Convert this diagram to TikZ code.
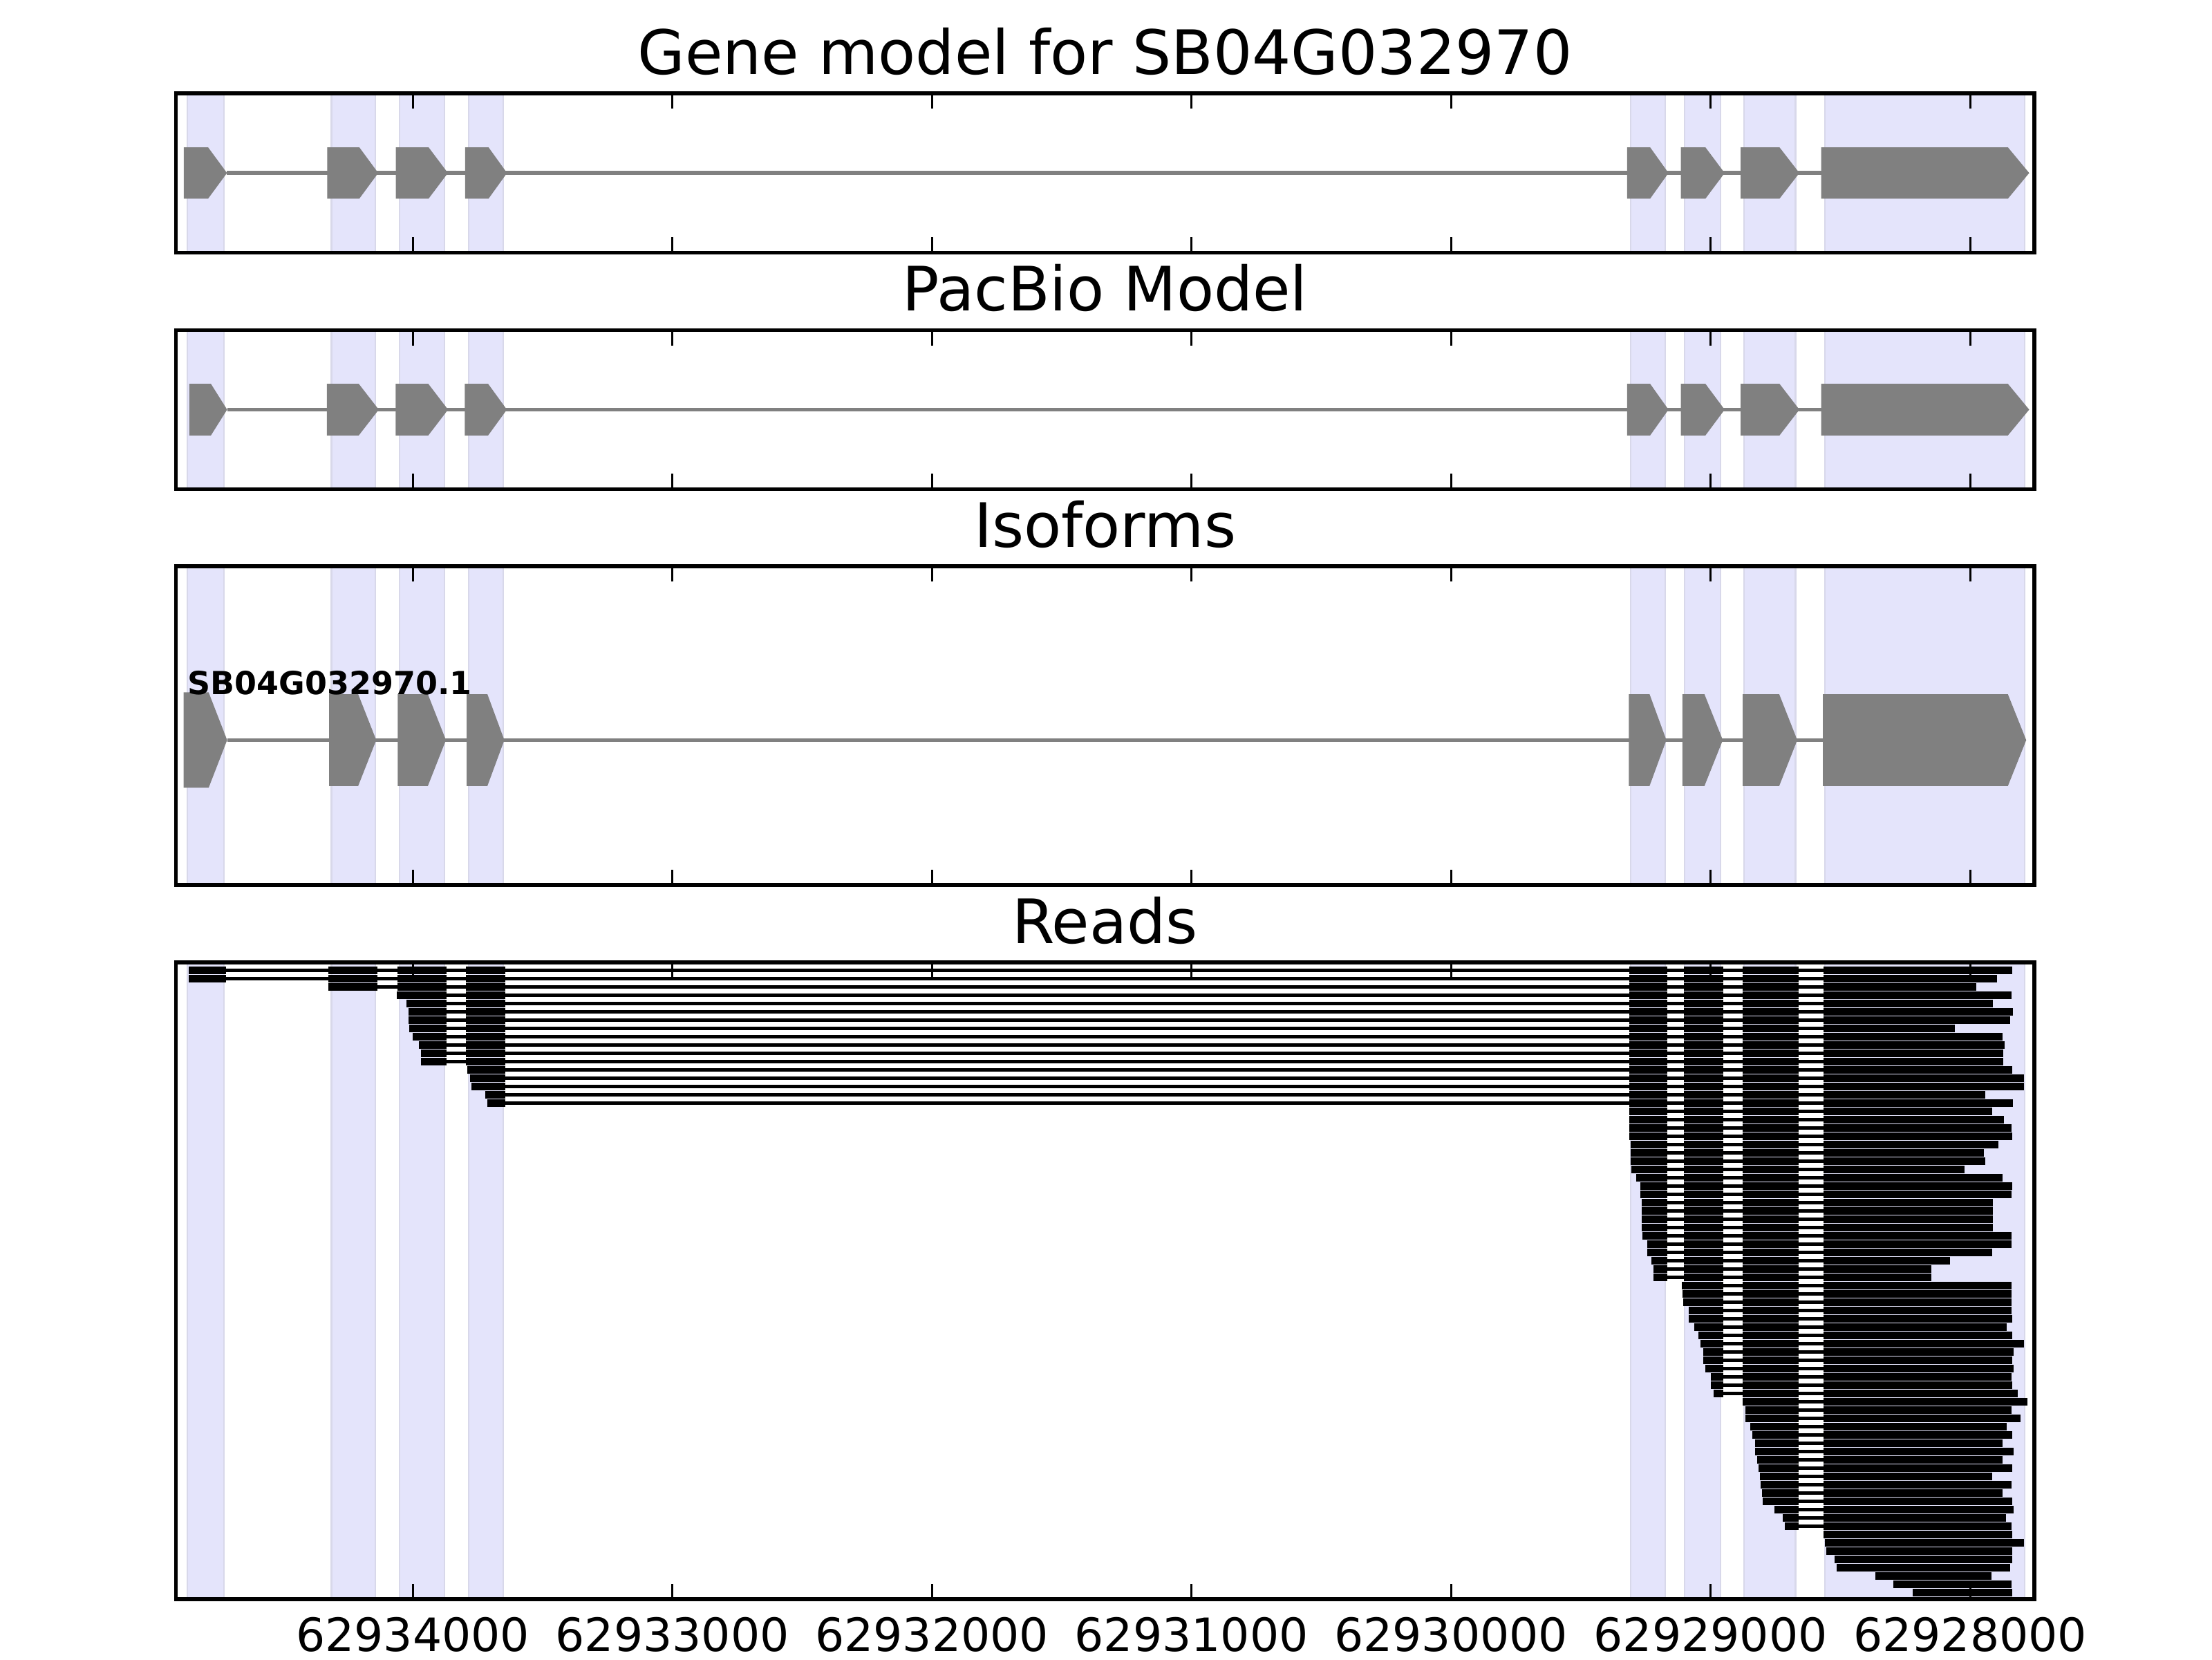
\documentclass[tikz,border=0pt]{standalone}
\usepackage{fontspec}
\setmainfont{DejaVu Sans}
\begin{document}
\begin{tikzpicture}[x=0.1296mm,y=-0.1296mm,band/.style={fill={rgb,255:red,228;green,228;blue,251},draw={rgb,255:red,216;green,216;blue,234},line width=0.4pt},exon/.style={fill={rgb,255:red,128;green,128;blue,128}},intron/.style={draw={rgb,255:red,128;green,128;blue,128},line width=1pt},readline/.style={draw=black,line width=1pt},readblock/.style={fill=black},axframe/.style={draw=black,line width=1pt},tickmark/.style={draw=black,line width=0.5pt},paneltitle/.style={anchor=base,inner sep=0pt,font=\fontsize{16}{19}\selectfont},ticklabel/.style={anchor=base,inner sep=0pt,font=\fontsize{12}{14}\selectfont},isolabel/.style={anchor=base west,inner sep=0pt,font=\bfseries\fontsize{8.3}{10}\selectfont}]
\useasboundingbox (0,0) rectangle (1568,1176);
\def\blkL{{133.7,232.8,281.8,330.3,1154.9,1193.6,1235.3,1292.4}}
\def\blkR{{160.1,267.6,316.5,358.3,1182.0,1221.7,1275.0,1435.0}}
\foreach \pt/\pb in {66.2/179,233.9/346.6,401.3/627.2,682.1/1133.4}{\foreach \bl/\br in {132.9/158.7,235/266,283.3/315,332.3/356.6,1155.9/1180.2,1194.0/1219.4,1236.3/1272.8,1293.6/1435.3}{\draw[band] (\bl,\pt) rectangle (\br,\pb);}}
\node[paneltitle] (t1) at (783.3,52.6) {Gene model for SB04G032970}; \node[paneltitle] (t2) at (783.3,220.4) {PacBio Model}; \node[paneltitle] (t3) at (783.3,387.8) {Isoforms}; \node[paneltitle] (t4) at (783.3,668.6) {Reads};
\draw[intron] (160.9,122.6)--(1290.9,122.6); \draw[intron] (161.0,290.3)--(1290.9,290.3); \draw[intron] (161.0,524.5)--(1292.2,524.5);
\foreach \a/\b/\c/\m/\h in {130.3/147.5/160.9/122.6/18.2,231.9/254.7/268.1/122.6/18.2,280.6/303.8/317.5/122.6/18.2,329.7/346.3/359.4/122.6/18.2,1153.4/1169.7/1182.7/122.6/18.2,1191.5/1208.9/1222.5/122.6/18.2,1233.8/1261.4/1275.5/122.6/18.2,1290.9/1423.3/1438.4/122.6/18.2,134.2/149.5/161.0/290.3/18.3,231.7/254.3/268.5/290.3/18.3,280.5/303.6/317.6/290.3/18.3,329.4/346.0/359.3/290.3/18.3,1153.4/1169.7/1182.7/290.3/18.3,1191.5/1208.9/1222.5/290.3/18.3,1233.8/1261.4/1275.5/290.3/18.3,1290.9/1423.3/1438.4/290.3/18.3,130.2/147.9/161.0/524.5/33.8,233.3/253.9/266.7/524.5/32.5,281.9/303.3/316.1/524.5/32.5,330.8/345.5/357.5/524.5/32.5,1154.6/1169.3/1181.2/524.5/32.5,1192.6/1208.2/1221.2/524.5/32.5,1235.3/1261.2/1274.0/524.5/32.5,1292.2/1423.3/1436.3/524.5/32.5}{\fill[exon] (\a,\m-\h)--(\b,\m-\h)--(\c,\m)--(\b,\m+\h)--(\a,\m+\h)--cycle;}
\node[isolabel] (iso) at (132.5,492) {SB04G032970.1};
\foreach \n/\first/\rbeg/\rfin in {1/1/133.7/1426.6,2/1/133.7/1415.8,3/2/232.8/1400.9,4/3/281.2/1425.7,5/3/288.2/1412.7,6/3/289.6/1427.0,7/3/289.6/1425.1,8/3/290.1/1385.6,9/3/292.6/1419.7,10/3/297.0/1421.2,11/3/298.4/1419.8,12/3/298.4/1419.8,13/4/331.4/1426.6,14/4/333.4/1434.6,15/4/334.2/1434.6,16/4/344.2/1407.3,17/4/345.6/1427.0,18/5/1154.9/1412.1,19/5/1154.9/1420.6,20/5/1154.9/1425.7,21/5/1154.9/1426.6,22/5/1155.7/1416.7,23/5/1156.1/1406.3,24/5/1156.1/1407.1,25/5/1156.4/1392.7,26/5/1160.0/1419.3,27/5/1162.8/1426.6,28/5/1162.8/1425.7,29/5/1163.8/1412.5,30/5/1163.8/1412.5,31/5/1163.8/1412.5,32/5/1163.8/1412.5,33/5/1164.4/1425.7,34/5/1167.7/1425.7,35/5/1167.7/1412.3,36/5/1170.6/1382.1,37/5/1172.1/1368.9,38/5/1172.1/1368.9,39/6/1192.3/1425.7,40/6/1192.7/1425.7,41/6/1193.2/1425.7,42/6/1197.1/1425.7,43/6/1197.1/1426.6,44/6/1201.0/1422.6,45/6/1203.9/1426.6,46/6/1205.4/1434.6,47/6/1207.4/1427.2,48/6/1207.4/1426.6,49/6/1208.9/1427.2,50/6/1212.8/1425.7,51/6/1212.8/1426.6,52/6/1214.7/1430.3,53/7/1235.3/1436.9,54/7/1237.4/1425.7,55/7/1237.4/1432.4,56/7/1240.7/1422.6,57/7/1242.2/1426.6,58/7/1244.2/1419.7,59/7/1244.2/1427.2,60/7/1245.7/1419.3,61/7/1246.5/1426.6,62/7/1247.7/1412.3,63/7/1248.2/1425.7,64/7/1249.0/1419.3,65/7/1249.6/1426.6,66/7/1257.9/1427.2,67/7/1263.9/1422.2,68/7/1265.1/1425.7,69/8/1292.8/1426.6,70/8/1293.4/1434.6,71/8/1294.5/1426.6,72/8/1300.5/1426.6,73/8/1302.1/1425.1,74/8/1329.4/1411.9,75/8/1342.2/1425.7,76/8/1355.7/1426.6}{
\pgfmathsetmacro\yy{687.6+(\n-1)*5.88}
\draw[readline] (\rbeg,\yy)--(\rfin,\yy);
\foreach \j in {\first,...,8}{\pgfmathsetmacro\bs{\blkL[\j-1]}\pgfmathsetmacro\be{\blkR[\j-1]}\ifnum\j=\first\let\bs\rbeg\fi\ifnum\j=8\let\be\rfin\fi\fill[readblock] (\bs,\yy-2.6) rectangle (\be,\yy+2.6);}}
\foreach \pt/\pb in {66.2/179,233.9/346.6,401.3/627.2,682.1/1133.4}{\draw[axframe] (124.6,\pt) rectangle (1442,\pb); \foreach \t in {0,...,6}{\draw[tickmark] ({292.6+184*\t},\pt)--++(0,10.9); \draw[tickmark] ({292.6+184*\t},\pb)--++(0,-10.9);}}
\foreach \t/\lab in {0/62934000,1/62933000,2/62932000,3/62931000,4/62930000,5/62929000,6/62928000}{\node[ticklabel] (tl\t) at ({292.6+184*\t},1170.3) {\lab};}
\end{tikzpicture}
\end{document}
